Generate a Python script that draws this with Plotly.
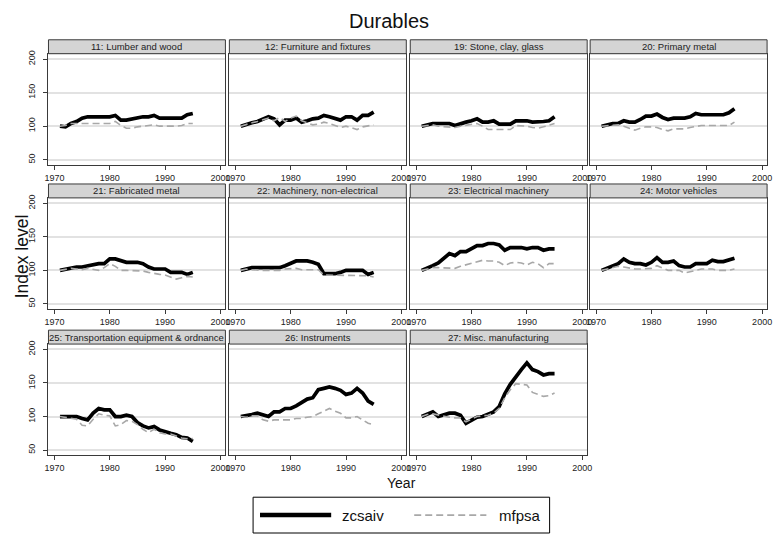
import plotly.graph_objects as go

W, H = 779, 534

years = [1971, 1972, 1973, 1974, 1975, 1976, 1977, 1978, 1979, 1980,
         1981, 1982, 1983, 1984, 1985, 1986, 1987, 1988, 1989, 1990,
         1991, 1992, 1993, 1994, 1995]

panel_titles = [
    "11: Lumber and wood", "12: Furniture and fixtures", "19: Stone, clay, glass",
    "20: Primary metal", "21: Fabricated metal", "22: Machinery, non-electrical",
    "23: Electrical machinery", "24: Motor vehicles",
    "25: Transportation equipment & ordnance", "26: Instruments",
    "27: Misc. manufacturing",
]

zcsaiv_11 = [100, 99, 104, 107, 112, 114, 114, 114, 114, 114, 116, 109, 109, 111, 112, 114, 114, 116, 112, 112, 112, 112, 112, 117, 119]
mfpsa_11 = [100, 101, 104, 104, 104, 104, 104, 104, 104, 104, 107, 101, 97, 97, 99, 100, 101, 102, 100, 100, 99, 100, 101, 104, 104]
zcsaiv_12 = [100, 103, 105, 107, 111, 114, 111, 102, 109, 109, 112, 106, 108, 111, 112, 116, 114, 112, 109, 114, 114, 109, 116, 116, 121]
mfpsa_12 = [100, 103, 105, 107, 110, 112, 108, 113, 107, 112, 115, 108, 105, 102, 103, 106, 104, 101, 98, 100, 98, 95, 99, 101, 102]
zcsaiv_19 = [100, 102, 104, 104, 104, 104, 101, 104, 106, 108, 111, 106, 106, 108, 103, 103, 103, 108, 108, 108, 106, 106, 107, 108, 114]
mfpsa_19 = [100, 101, 102, 100, 99, 98, 98, 100, 101, 102, 104, 100, 95, 95, 95, 95, 95, 101, 101, 100, 98, 97, 99, 101, 104]
zcsaiv_20 = [100, 102, 104, 104, 108, 106, 106, 110, 115, 115, 118, 113, 110, 112, 112, 112, 114, 119, 117, 117, 117, 117, 117, 120, 126]
mfpsa_20 = [100, 101, 102, 102, 100, 97, 94, 97, 99, 99, 98, 95, 93, 96, 96, 96, 98, 100, 101, 101, 101, 101, 101, 101, 106]
zcsaiv_21 = [100, 102, 104, 105, 105, 107, 108, 110, 110, 117, 117, 115, 112, 112, 112, 110, 105, 102, 102, 102, 97, 97, 97, 94, 97]
mfpsa_21 = [100, 102, 103, 102, 101, 103, 102, 100, 104, 110, 106, 100, 100, 100, 100, 99, 97, 95, 94, 93, 90, 87, 89, 91, 90]
zcsaiv_22 = [100, 102, 104, 104, 104, 104, 104, 104, 107, 110, 114, 114, 114, 112, 109, 95, 95, 95, 97, 100, 100, 100, 100, 94, 97]
mfpsa_22 = [100, 102, 101, 100, 100, 100, 100, 100, 102, 103, 103, 101, 101, 101, 101, 93, 93, 93, 93, 93, 93, 93, 93, 92, 90]
zcsaiv_23 = [100, 103, 107, 111, 118, 125, 122, 128, 128, 132, 137, 137, 140, 140, 138, 130, 134, 134, 134, 132, 134, 134, 130, 132, 132]
mfpsa_23 = [100, 102, 104, 104, 104, 104, 103, 106, 108, 111, 113, 115, 114, 114, 112, 107, 111, 112, 111, 108, 112, 110, 104, 110, 110]
zcsaiv_24 = [100, 103, 107, 110, 117, 112, 110, 110, 108, 112, 119, 112, 112, 114, 107, 105, 105, 110, 110, 110, 115, 113, 113, 115, 118]
mfpsa_24 = [100, 102, 105, 106, 105, 103, 102, 102, 103, 103, 107, 103, 100, 100, 100, 96, 98, 101, 102, 102, 102, 100, 100, 100, 102]
zcsaiv_25 = [100, 100, 100, 100, 97, 95, 105, 112, 110, 110, 100, 100, 102, 100, 91, 86, 83, 85, 80, 77, 75, 73, 69, 68, 63]
mfpsa_25 = [100, 99, 97, 96, 87, 86, 96, 104, 102, 101, 86, 88, 94, 93, 88, 81, 76, 81, 76, 74, 74, 71, 68, 67, 67]
zcsaiv_26 = [100, 101, 103, 105, 102, 100, 107, 107, 112, 112, 116, 121, 126, 128, 140, 142, 144, 142, 139, 133, 135, 142, 135, 123, 118]
mfpsa_26 = [100, 99, 101, 101, 95, 93, 95, 95, 96, 95, 97, 97, 99, 100, 104, 108, 112, 108, 105, 98, 98, 100, 95, 90, 88]
zcsaiv_27 = [100, 104, 107, 100, 103, 105, 105, 102, 90, 95, 99, 100, 104, 107, 115, 134, 148, 160, 170, 180, 170, 167, 162, 164, 164]
mfpsa_27 = [100, 103, 104, 102, 100, 99, 98, 98, 92, 96, 100, 101, 102, 105, 112, 128, 140, 149, 148, 147, 136, 133, 130, 131, 135]

zcsaiv = [zcsaiv_11, zcsaiv_12, zcsaiv_19, zcsaiv_20, zcsaiv_21, zcsaiv_22,
          zcsaiv_23, zcsaiv_24, zcsaiv_25, zcsaiv_26, zcsaiv_27]
mfpsa = [mfpsa_11, mfpsa_12, mfpsa_19, mfpsa_20, mfpsa_21, mfpsa_22,
         mfpsa_23, mfpsa_24, mfpsa_25, mfpsa_26, mfpsa_27]

x_ticks = [1970, 1980, 1990, 2000]
y_ticks = [50, 100, 150, 200]

FONT = "Liberation Sans, Arial, sans-serif"
col_left = [45, 228, 411, 593]
pw = 179
row_top = [51, 196, 343]
row_bot = [163, 308, 455]
hdr_h = 14
frame_col = "#3a3a3a"

fig = go.Figure()
layout = {}
shapes = []
annotations = []

for i, title in enumerate(panel_titles):
    r, c = divmod(i, 4)
    n = i + 1
    xa = "xaxis" if n == 1 else f"xaxis{n}"
    ya = "yaxis" if n == 1 else f"yaxis{n}"
    xr = "x" if n == 1 else f"x{n}"
    yr = "y" if n == 1 else f"y{n}"
    left = col_left[c]
    layout[xa] = dict(
        domain=[left / W, (left + pw) / W], anchor=yr,
        range=[1970 - 6 / 5.6, 1970 + (pw - 6) / 5.6],
        tickvals=x_ticks, ticks="outside", ticklen=4, tickwidth=1, tickcolor=frame_col,
        tickfont=dict(family=FONT, size=9, color="#222"),
        showgrid=False, zeroline=False,
        showline=True, mirror=True, linecolor=frame_col, linewidth=1,
    )
    layout[ya] = dict(
        domain=[1 - row_bot[r] / H, 1 - row_top[r] / H], anchor=xr,
        range=[42, 208], tickvals=y_ticks,
        showgrid=True, gridcolor="#e2e2e2", gridwidth=1.5, zeroline=False,
        showline=True, mirror=True, linecolor=frame_col, linewidth=1,
        showticklabels=(c == 0), ticks="outside" if c == 0 else "",
        ticklen=4, tickwidth=1, tickcolor=frame_col, tickangle=-90,
        ticklabelstandoff=5,
        tickfont=dict(family=FONT, size=9, color="#222"),
    )
    fig.add_trace(go.Scatter(x=years, y=zcsaiv[i], mode="lines", name="zcsaiv",
                             line=dict(color="black", width=3.7), xaxis=xr, yaxis=yr,
                             showlegend=False))
    fig.add_trace(go.Scatter(x=years, y=mfpsa[i], mode="lines", name="mfpsa",
                             line=dict(color="#a8a8a8", width=1.6, dash="7px,4px"),
                             xaxis=xr, yaxis=yr, showlegend=False))
    # header strip
    shapes.append(dict(type="rect", xref="paper", yref="paper",
                       x0=left / W, x1=(left + pw) / W,
                       y0=1 - row_top[r] / H, y1=1 - (row_top[r] - hdr_h) / H,
                       fillcolor="#d4d4d4", line=dict(color=frame_col, width=1), layer="above"))
    annotations.append(dict(text=title, xref="paper", yref="paper",
                            x=(left + pw / 2) / W, y=1 - (row_top[r] - hdr_h / 2) / H,
                            showarrow=False, xanchor="center", yanchor="middle",
                            font=dict(family=FONT, size=9.5, color="#222")))

# titles
annotations.append(dict(text="Durables", xref="paper", yref="paper", x=390 / W, y=1 - 18 / H,
                        showarrow=False, xanchor="center", yanchor="middle",
                        font=dict(family=FONT, size=20, color="#111")))
annotations.append(dict(text="Index level", xref="paper", yref="paper", x=18 / W, y=1 - 255 / H,
                        showarrow=False, xanchor="center", yanchor="middle", textangle=-90,
                        font=dict(family=FONT, size=17.5, color="#111")))
annotations.append(dict(text="Year", xref="paper", yref="paper", x=402 / W, y=1 - 483 / H,
                        showarrow=False, xanchor="center", yanchor="middle",
                        font=dict(family=FONT, size=14, color="#111")))

# legend box (drawn manually to match the long line samples)
ly = 1 - 515 / H
shapes.append(dict(type="rect", xref="paper", yref="paper", x0=252 / W, x1=552 / W,
                   y0=1 - 533 / H, y1=1 - 497 / H, line=dict(color="black", width=1),
                   fillcolor="white"))
shapes.append(dict(type="line", xref="paper", yref="paper", x0=259 / W, x1=331 / W,
                   y0=ly, y1=ly, line=dict(color="black", width=4.5)))
shapes.append(dict(type="line", xref="paper", yref="paper", x0=415 / W, x1=488 / W,
                   y0=ly, y1=ly, line=dict(color="#a8a8a8", width=1.6, dash="7px,4px")))
annotations.append(dict(text="zcsaiv", xref="paper", yref="paper", x=340 / W, y=ly,
                        showarrow=False, xanchor="left", yanchor="middle",
                        font=dict(family=FONT, size=15, color="#111")))
annotations.append(dict(text="mfpsa", xref="paper", yref="paper", x=499 / W, y=ly,
                        showarrow=False, xanchor="left", yanchor="middle",
                        font=dict(family=FONT, size=15, color="#111")))

fig.update_layout(
    width=W, height=H, margin=dict(l=0, r=0, t=0, b=0),
    paper_bgcolor="white", plot_bgcolor="white",
    shapes=shapes, annotations=annotations, showlegend=False,
    **layout,
)

fig.write_html("out.html")
